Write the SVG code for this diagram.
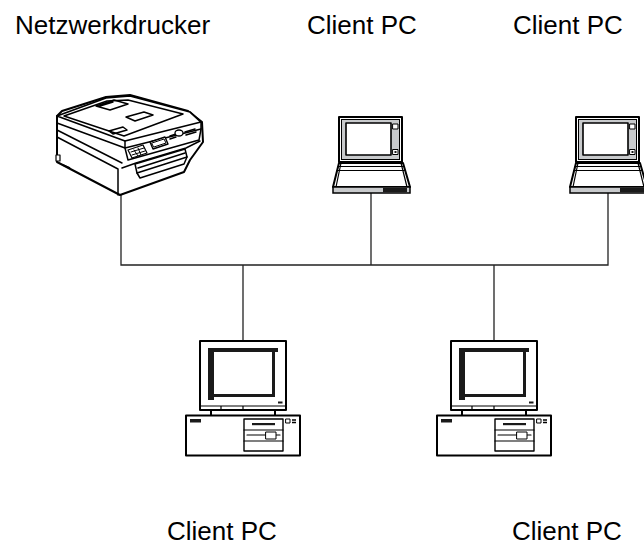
<svg xmlns="http://www.w3.org/2000/svg" width="644" height="545" viewBox="0 0 644 545">
  <style>
    .label { font-family: "Liberation Sans", Arial, sans-serif; font-size: 26px; fill: #000; }
    .ink { fill: #fff; stroke: #000; stroke-linejoin: round; stroke-linecap: round; }
    .thin { fill: none; stroke: #000; stroke-width: 1.2; stroke-linecap: round; stroke-linejoin: round; }
    #printer .thin { stroke-width: 1.5; }
    .grey { fill: #c8cacc; stroke: #000; }
    .solid { fill: #1a1a1a; stroke: none; }
    .wire { fill: none; stroke: #222; stroke-width: 1.3; }
  </style>
  <defs>
    <!-- notebook, drawn around x = 371 -->
    <g id="notebook">
      <rect class="ink" x="339" y="117" width="63" height="45" stroke-width="2"/>
      <rect class="grey" x="341.5" y="119.5" width="58" height="40" stroke-width="1"/>
      <rect class="ink" x="346" y="123" width="45" height="32" stroke-width="1.6"/>
      <rect class="ink" x="393" y="124" width="5" height="5" stroke-width="1"/>
      <rect class="ink" x="393" y="149.5" width="5" height="5" stroke-width="1"/>
      <rect class="solid" x="394.5" y="151" width="2" height="2"/>
      <path class="ink" d="M339,163 H403 L410,187 H333 Z" stroke-width="2"/>
      <path class="thin" d="M338.2,166.5 H404 M337.2,170.5 H405.2 M341,163 L336,187 M401,163 L407,187"/>
      <rect class="grey" x="333" y="187" width="77" height="6" stroke-width="1.5"/>
      <rect class="solid" x="383" y="187.8" width="24" height="4.4"/>
    </g>
    <!-- desktop workstation, drawn around x = 243 -->
    <g id="workstation">
      <rect class="ink" x="200" y="341" width="86" height="69" stroke-width="2"/>
      <path class="thin" d="M201,406 H285 M221,406 V410 M243,406 V410"/>
      <path class="solid" d="M208,348 H278 V352 H275 V397 H214 V400 H208 Z"/>
      <rect x="214" y="352" width="58" height="42" fill="#fff"/>
      <rect class="solid" x="278" y="401.5" width="4.5" height="2"/>
      <path fill="none" stroke="#000" stroke-width="2" d="M211,410 V416 M275,410 V416"/>
      <rect class="ink" x="186" y="415.5" width="114" height="40" stroke-width="2"/>
      <rect class="solid" x="190" y="419" width="11" height="3.5"/>
      <rect class="ink" x="244" y="419" width="39" height="32" stroke-width="1.4"/>
      <path class="thin" d="M244,430 H283 M244,441 H283 M247,435 H280"/>
      <rect class="solid" x="252" y="423" width="23" height="2.2"/>
      <rect class="ink" x="266" y="432" width="10" height="7" stroke-width="1"/>
      <rect class="ink" x="286" y="419" width="4" height="4" stroke-width="1"/>
      <path fill="none" stroke="#000" stroke-width="1.4" d="M292,420 H296 M292,422.5 H296"/>
    </g>
  </defs>

  <!-- network cabling -->
  <g id="connectors">
    <path class="wire" d="M121,194 V265 H608 V193 M371,193 V265 M243,265 V341 M494,265 V341"/>
  </g>

  <!-- network printer (multifunction device) -->
  <g id="printer">
    <path class="ink" stroke-width="2" d="M57,116 L62,111 L106,97 L130,95 L188,111 L202,122 L203,142 L190,160 L184,172 L120,195 L57,162 Z"/>
    <!-- scanner lid -->
    <path class="ink" stroke-width="1.7" d="M57,116 L106,98 L130,96 L190,112 L201,122 L125,141 Z"/>
    <path class="thin" d="M57,116 L57,123 L125,148 L125,141 M125,148 L201,129 L201,122"/>
    <path class="thin" d="M64,116 L107,101 L128,100 L183,114 L124,136 Z"/>
    <!-- document tray -->
    <path class="thin" d="M96,106 L114,100 L128,104 L110,110 Z M100,106 L113,102 M126,117 L144,112 L153,115 L135,121 Z"/>
    <path class="thin" d="M109,131 L123,127 L127,130 L113,134 Z"/>
    <!-- left side -->
    <path class="thin" d="M57,137 L118,169 M118,169 L118,195 M57,130 L122,163"/>
    <rect class="ink" x="56" y="155" width="4" height="6" stroke-width="1.2"/>
    <path fill="none" stroke="#000" stroke-width="1.8" d="M63,165 L70,168"/>
    <!-- control panel -->
    <path class="thin" d="M125,148 L128,160 L199,140 L201,129"/>
    <path class="ink" stroke-width="1.2" d="M128,150 L143,145 L147,153 L132,158 Z"/>
    <path class="thin" style="stroke-width:1" d="M131,152 L144,148 M132,155 L145,151 M134,150 L138,156 M138,148 L141,155"/>
    <path class="ink" stroke-width="1.4" d="M150,142 L165,137 L168,144 L153,149 Z"/>
    <path class="thin" style="stroke-width:1" d="M152,143 L164,139 L166,143 L154,147 Z"/>
    <path class="thin" d="M170,136 L176,134 M170,139 L176,137 M185,132 L195,129 M186,135 L196,132"/>
    <ellipse class="ink" cx="179" cy="133" rx="4" ry="3" stroke-width="1.3"/>
    <!-- paper tray -->
    <path class="thin" d="M122,168 L136,163 L186,148 L200,141"/>
    <path class="ink" stroke-width="1.5" d="M135,164 L185,149 L187,157 L137,173 Z"/>
    <path class="thin" d="M138,168 L185,153 M137,173 L140,178 L184,164 L187,157"/>
  </g>

  <!-- notebook clients -->
  <g id="client-notebook-1">
    <use href="#notebook"/>
  </g>
  <g id="client-notebook-2">
    <use href="#notebook" transform="translate(237,0)"/>
  </g>

  <!-- desktop clients -->
  <g id="client-desktop-1">
    <use href="#workstation"/>
  </g>
  <g id="client-desktop-2">
    <use href="#workstation" transform="translate(251,0)"/>
  </g>

  <!-- captions -->
  <g id="captions">
    <text class="label" x="15" y="34">Netzwerkdrucker</text>
    <text class="label" x="307" y="34">Client PC</text>
    <text class="label" x="513" y="34">Client PC</text>
    <text class="label" x="167" y="540">Client PC</text>
    <text class="label" x="512" y="540">Client PC</text>
  </g>
</svg>
